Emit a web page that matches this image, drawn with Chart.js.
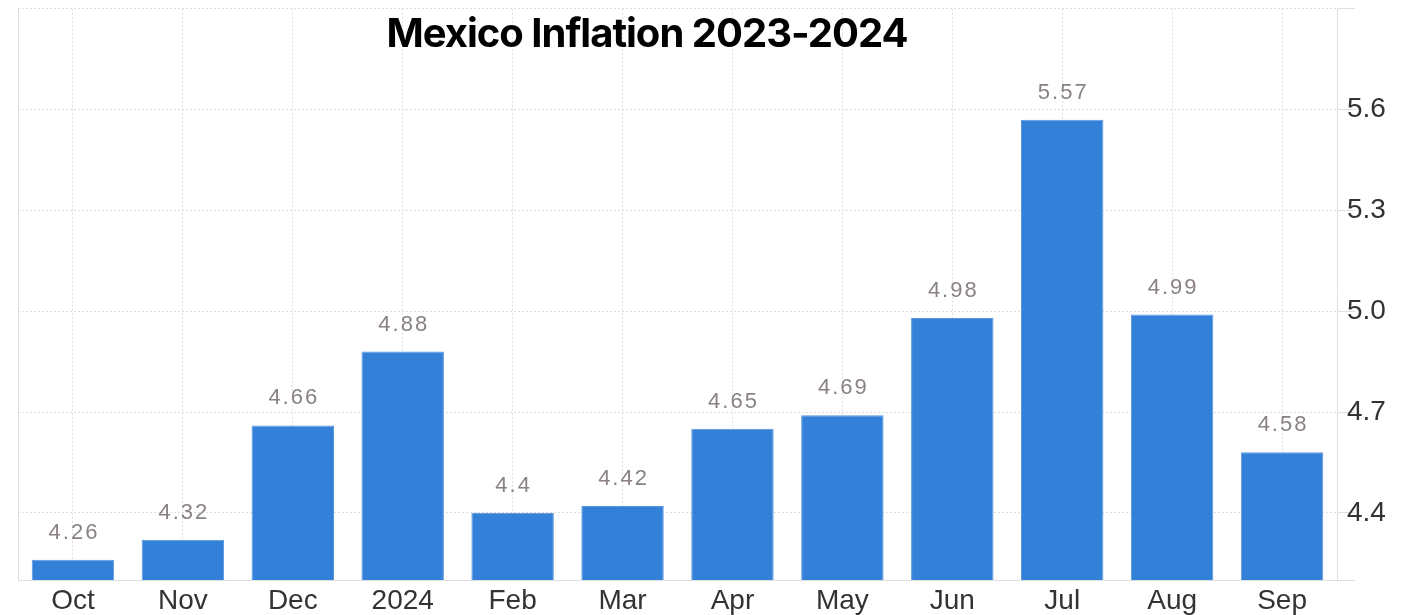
<!DOCTYPE html>
<html>
<head>
<meta charset="utf-8">
<script src="https://cdn.jsdelivr.net/npm/chart.js@4"></script>
<style>
  html, body { margin: 0; padding: 0; background: #fff; }
  #wrap { width: 1414px; height: 615px; position: relative; }
</style>
</head>
<body>
<div id="wrap"><canvas id="chart"></canvas></div>
<script>
const months = ['Oct', 'Nov', 'Dec', '2024', 'Feb', 'Mar', 'Apr', 'May', 'Jun', 'Jul', 'Aug', 'Sep'];
const inflation = [4.26, 4.32, 4.66, 4.88, 4.4, 4.42, 4.65, 4.69, 4.98, 5.57, 4.99, 4.58];
const yTicks = [4.4, 4.7, 5.0, 5.3, 5.6];
const yMin = 4.2;
const yMax = 5.9;

const blue = '#3380d8';
const gridGrey = '#dedede';

// value labels above bars, spaced out a bit like the original
const barLabels = {
  id: 'barLabels',
  afterDatasetsDraw(chart) {
    const ctx = chart.ctx;
    const meta = chart.getDatasetMeta(0);
    ctx.save();
    ctx.font = '22px "Liberation Sans", Arial, sans-serif';
    ctx.fillStyle = '#8a8282';
    ctx.textAlign = 'center';
    ctx.textBaseline = 'alphabetic';
    ctx.letterSpacing = '2px';
    meta.data.forEach((bar, i) => {
      ctx.fillText(String(inflation[i]), bar.x + 1, bar.y - 21);
    });
    ctx.restore();
  }
};

// left frame line + title drawn over the plot
const frame = {
  id: 'frame',
  beforeDatasetsDraw(chart) {
    const {ctx, chartArea} = chart;
    ctx.save();
    ctx.strokeStyle = gridGrey;
    ctx.lineWidth = 1;
    ctx.beginPath();
    ctx.moveTo(chartArea.left + 0.5, chartArea.top);
    ctx.lineTo(chartArea.left + 0.5, chartArea.bottom);
    ctx.stroke();
    ctx.restore();
  },
  afterDraw(chart) {
    const ctx = chart.ctx;
    ctx.save();
    ctx.font = 'bold 40px Inter, "Noto Sans", sans-serif';
    ctx.fillStyle = '#000';
    ctx.textAlign = 'center';
    ctx.textBaseline = 'alphabetic';
    ctx.letterSpacing = '-1px';
    ctx.fillText('Mexico Inflation 2023-2024', 647, 47);
    ctx.restore();
  }
};

new Chart(document.getElementById('chart'), {
  type: 'bar',
  data: {
    labels: months,
    datasets: [{
      data: inflation,
      backgroundColor: blue,
      borderColor: '#5b97dd',
      borderWidth: 1,
      barPercentage: 0.75,
      categoryPercentage: 1
    }]
  },
  options: {
    responsive: true,
    maintainAspectRatio: false,
    animation: false,
    layout: {
      padding: {left: 18, top: 8, right: 0, bottom: 0}
    },
    plugins: {
      legend: false,
      tooltip: {enabled: false}
    },
    scales: {
      x: {
        grid: {
          offset: false,
          color: gridGrey,
          drawTicks: false
        },
        border: {color: gridGrey, dash: [2, 2], display: true},
        ticks: {
          color: '#333',
          padding: 4,
          font: {family: '"Liberation Sans", Arial, sans-serif', size: 28}
        },
        afterFit(scale) { scale.height = 35; }
      },
      y: {
        position: 'right',
        min: yMin,
        max: yMax,
        afterBuildTicks(scale) {
          scale.ticks = [yMin, ...yTicks, yMax].map(v => ({value: v}));
        },
        grid: {
          color: gridGrey,
          tickLength: 18,
          tickColor: gridGrey
        },
        border: {color: gridGrey, dash: [2, 2]},
        ticks: {
          color: '#333',
          padding: -8,
          font: {family: '"Liberation Sans", Arial, sans-serif', size: 28},
          callback(v) {
            return yTicks.includes(v) ? v.toFixed(1) : '';
          }
        },
        afterFit(scale) { scale.width = 77; }
      }
    }
  },
  plugins: [frame, barLabels]
});
</script>
</body>
</html>
